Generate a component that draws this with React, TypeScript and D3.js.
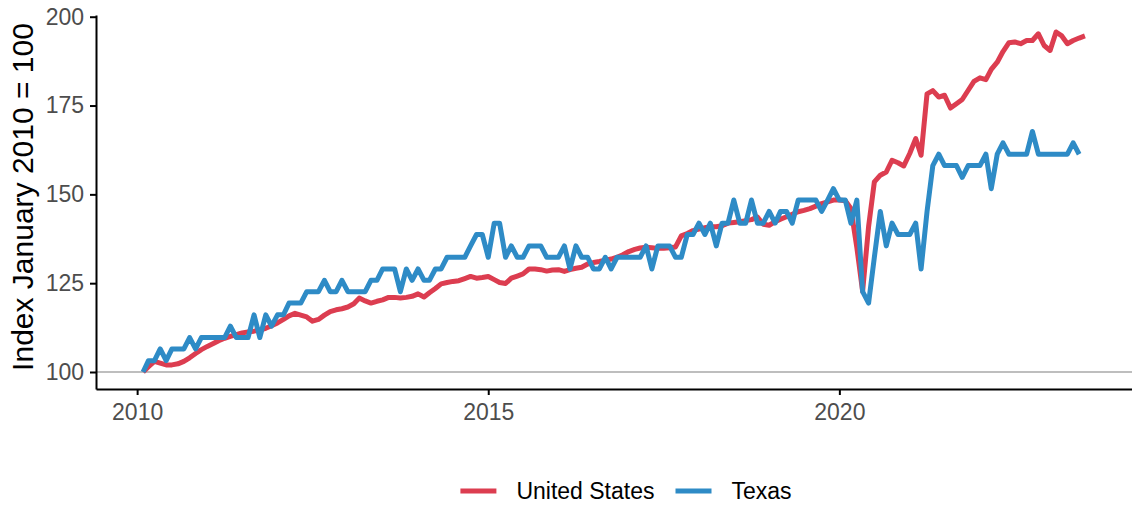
import React, { useEffect, useRef } from 'react';
import { select, scaleLinear, scaleTime, axisBottom, axisLeft, line, timeMonth, extent } from 'd3';

// monthly series, first point Feb 2010
const startMonth = new Date(2010, 1, 1);

const usIndex = [
  100, 101.5, 103, 102.5, 102, 102, 102.3, 103, 104, 105.2, 106.3, 107.2,
  108, 108.8, 109.5, 110, 110.5, 111, 111.3, 111.5, 111.8, 112.3, 113, 113.8,
  114.8, 115.8, 116.5, 116, 115.5, 114.3, 114.8, 116, 117, 117.5, 117.8, 118.3,
  119.2, 120.8, 120, 119.4, 119.9, 120.3, 121, 121, 120.8, 121, 121.3, 122,
  121.1, 122.3, 123.5, 124.8, 125.2, 125.5, 125.7, 126.3, 126.9, 126.4, 126.6, 126.9,
  126, 125.2, 124.9, 126.4, 127, 127.6, 129, 129, 128.8, 128.4, 128.7, 128.8,
  128.3, 128.8, 129.2, 129.5, 130.4, 130.8, 131.1, 131.5, 131.8, 132.3, 133, 133.9,
  134.5, 134.9, 135.1, 135, 134.8, 134.8, 135, 135.2, 138.3, 139, 139.8, 140.2,
  140.6, 140.9, 140.9, 141.2, 141.9, 142.1, 142.3, 142.6, 142.9, 143.6, 141.6, 141.3,
  142.3, 143, 143.7, 144.4, 145.1, 145.5, 146, 146.7, 147.4, 147.9, 148.4, 148.4,
  148.2, 146, 135, 122.7, 140.9, 153.5, 155.4, 156.3, 159.6, 158.9, 158, 161.5,
  165.7, 161, 178.3, 179.2, 177.4, 177.9, 174.3, 175.5, 176.7, 179.3, 181.8, 182.8,
  182.3, 185.2, 187.2, 190.2, 192.7, 192.9, 192.4, 193.3, 193.3, 195.2, 191.9, 190.5,
  195.7, 194.7, 192.4, 193.3, 194, 194.6,
];

const texasIndex = [
  100, 103.2, 103.2, 106.5, 103.2, 106.5, 106.5, 106.5, 109.7, 106.5, 109.7, 109.7,
  109.7, 109.7, 109.7, 112.9, 109.7, 109.7, 109.7, 116.1, 109.7, 116.1, 112.9, 116.1,
  116.1, 119.4, 119.4, 119.4, 122.6, 122.6, 122.6, 125.8, 122.6, 122.6, 125.8, 122.6,
  122.6, 122.6, 122.6, 125.8, 125.8, 129.0, 129.0, 129.0, 122.6, 129.0, 125.8, 129.0,
  125.8, 125.8, 129.0, 129.0, 132.3, 132.3, 132.3, 132.3, 135.5, 138.7, 138.7, 132.3,
  141.9, 141.9, 132.3, 135.5, 132.3, 132.3, 135.5, 135.5, 135.5, 132.3, 132.3, 132.3,
  135.5, 129.0, 135.5, 132.3, 132.3, 129.0, 129.0, 132.3, 129.0, 132.3, 132.3, 132.3,
  132.3, 132.3, 135.5, 129.0, 135.5, 135.5, 135.5, 132.3, 132.3, 138.7, 138.7, 141.9,
  138.7, 141.9, 135.5, 141.9, 141.9, 148.4, 141.9, 141.9, 148.4, 141.9, 141.9, 145.2,
  141.9, 145.2, 145.2, 141.9, 148.4, 148.4, 148.4, 148.4, 145.2, 148.4, 151.6, 148.4,
  148.4, 141.9, 148.4, 122.6, 119.4, 132.3, 145.2, 135.5, 141.9, 138.7, 138.7, 138.7,
  141.9, 129.0, 145.2, 158.1, 161.3, 158.1, 158.1, 158.1, 154.8, 158.1, 158.1, 158.1,
  161.3, 151.6, 161.3, 164.5, 161.3, 161.3, 161.3, 161.3, 167.7, 161.3, 161.3, 161.3,
  161.3, 161.3, 161.3, 164.5, 161.3,
];

const seriesNames = ['United States', 'Texas'];
const seriesColors = ['#DC3D50', '#2E8BC6'];
const yTicks = [100, 125, 150, 175, 200];
const xTickYears = [2010, 2015, 2020];
const yTitle = 'Index January 2010 = 100';

const FONT = 'Liberation Sans, Arial, Helvetica, sans-serif';

function IndexChart() {
  const svgRef = useRef(null);

  useEffect(() => {
    const svg = select(svgRef.current);
    const width = 1132;
    const height = 505;
    const panel = { left: 96, right: 1132, top: 15, bottom: 389 };

    const series = [usIndex, texasIndex].map((vals, k) => ({
      name: seriesNames[k],
      color: seriesColors[k],
      points: vals.map((v, i) => ({ date: timeMonth.offset(startMonth, i), value: v })),
    }));
    const all = series.flatMap((s) => s.points);

    // ggplot-like 5% expansion
    const [d0, d1] = extent(all, (d) => d.date.getTime());
    const dx = (d1 - d0) * 0.05;
    const [v0, v1] = extent(all, (d) => d.value);
    const dv = (v1 - v0) * 0.05;

    const xScale = scaleTime()
      .domain([new Date(d0 - dx), new Date(d1 + dx)])
      .range([panel.left, panel.right]);
    const yScale = scaleLinear()
      .domain([v0 - dv, v1 + dv])
      .range([panel.bottom, panel.top]);

    svg.attr('width', width).attr('height', height);

    // reference line at 100
    svg.append('line')
      .attr('x1', panel.left)
      .attr('x2', panel.right)
      .attr('y1', yScale(100))
      .attr('y2', yScale(100))
      .attr('stroke', '#BEBEBE')
      .attr('stroke-width', 2);

    const lineGen = line()
      .x((d) => xScale(d.date))
      .y((d) => yScale(d.value));

    svg.selectAll('path.series')
      .data(series)
      .enter()
      .append('path')
      .attr('class', 'series')
      .attr('d', (d) => lineGen(d.points))
      .attr('fill', 'none')
      .attr('stroke', (d) => d.color)
      .attr('stroke-width', 5)
      .attr('stroke-linejoin', 'round');

    // axes
    const yAxis = axisLeft(yScale).tickValues(yTicks).tickSize(6).tickSizeOuter(0).tickPadding(6);
    const xAxis = axisBottom(xScale)
      .tickValues(xTickYears.map((y) => new Date(y, 0, 1)))
      .tickFormat((d) => String(d.getFullYear()))
      .tickSize(6)
      .tickSizeOuter(0)
      .tickPadding(9);

    const gy = svg.append('g').attr('transform', `translate(${panel.left},0)`).call(yAxis);
    const gx = svg.append('g').attr('transform', `translate(0,${panel.bottom})`).call(xAxis);

    [gx, gy].forEach((g) => {
      g.attr('font-family', FONT).attr('font-size', 23);
      g.select('.domain').attr('stroke', '#000').attr('stroke-width', 2);
      g.selectAll('.tick line').attr('stroke', '#000').attr('stroke-width', 2);
      g.selectAll('.tick text').attr('fill', '#4D4D4D');
    });

    svg.append('text')
      .attr('transform', `translate(33,${(panel.top + panel.bottom) / 2 - 5}) rotate(-90)`)
      .attr('text-anchor', 'middle')
      .attr('font-family', FONT)
      .attr('font-size', 30)
      .attr('fill', '#000')
      .text(yTitle);

    // legend
    const legend = svg.append('g').attr('font-family', FONT).attr('font-size', 23);
    let cursor = 0;
    series.forEach((s) => {
      const item = legend.append('g').attr('transform', `translate(${cursor},0)`);
      item.append('line')
        .attr('x1', 0).attr('x2', 36)
        .attr('y1', 0).attr('y2', 0)
        .attr('stroke', s.color)
        .attr('stroke-width', 5);
      const t = item.append('text')
        .attr('x', 56)
        .attr('y', 8)
        .attr('fill', '#000')
        .text(s.name);
      cursor += 56 + t.node().getComputedTextLength() + 21;
    });
    const legendWidth = cursor - 21;
    legend.attr('transform', `translate(${626 - legendWidth / 2},491)`);

    return () => svg.selectAll('*').remove();
  }, []);

  return <svg ref={svgRef} width={1132} height={505} style={{ position: 'absolute', left: 0, top: 0 }}></svg>;
}

export default function App() {
  return <IndexChart />;
}
